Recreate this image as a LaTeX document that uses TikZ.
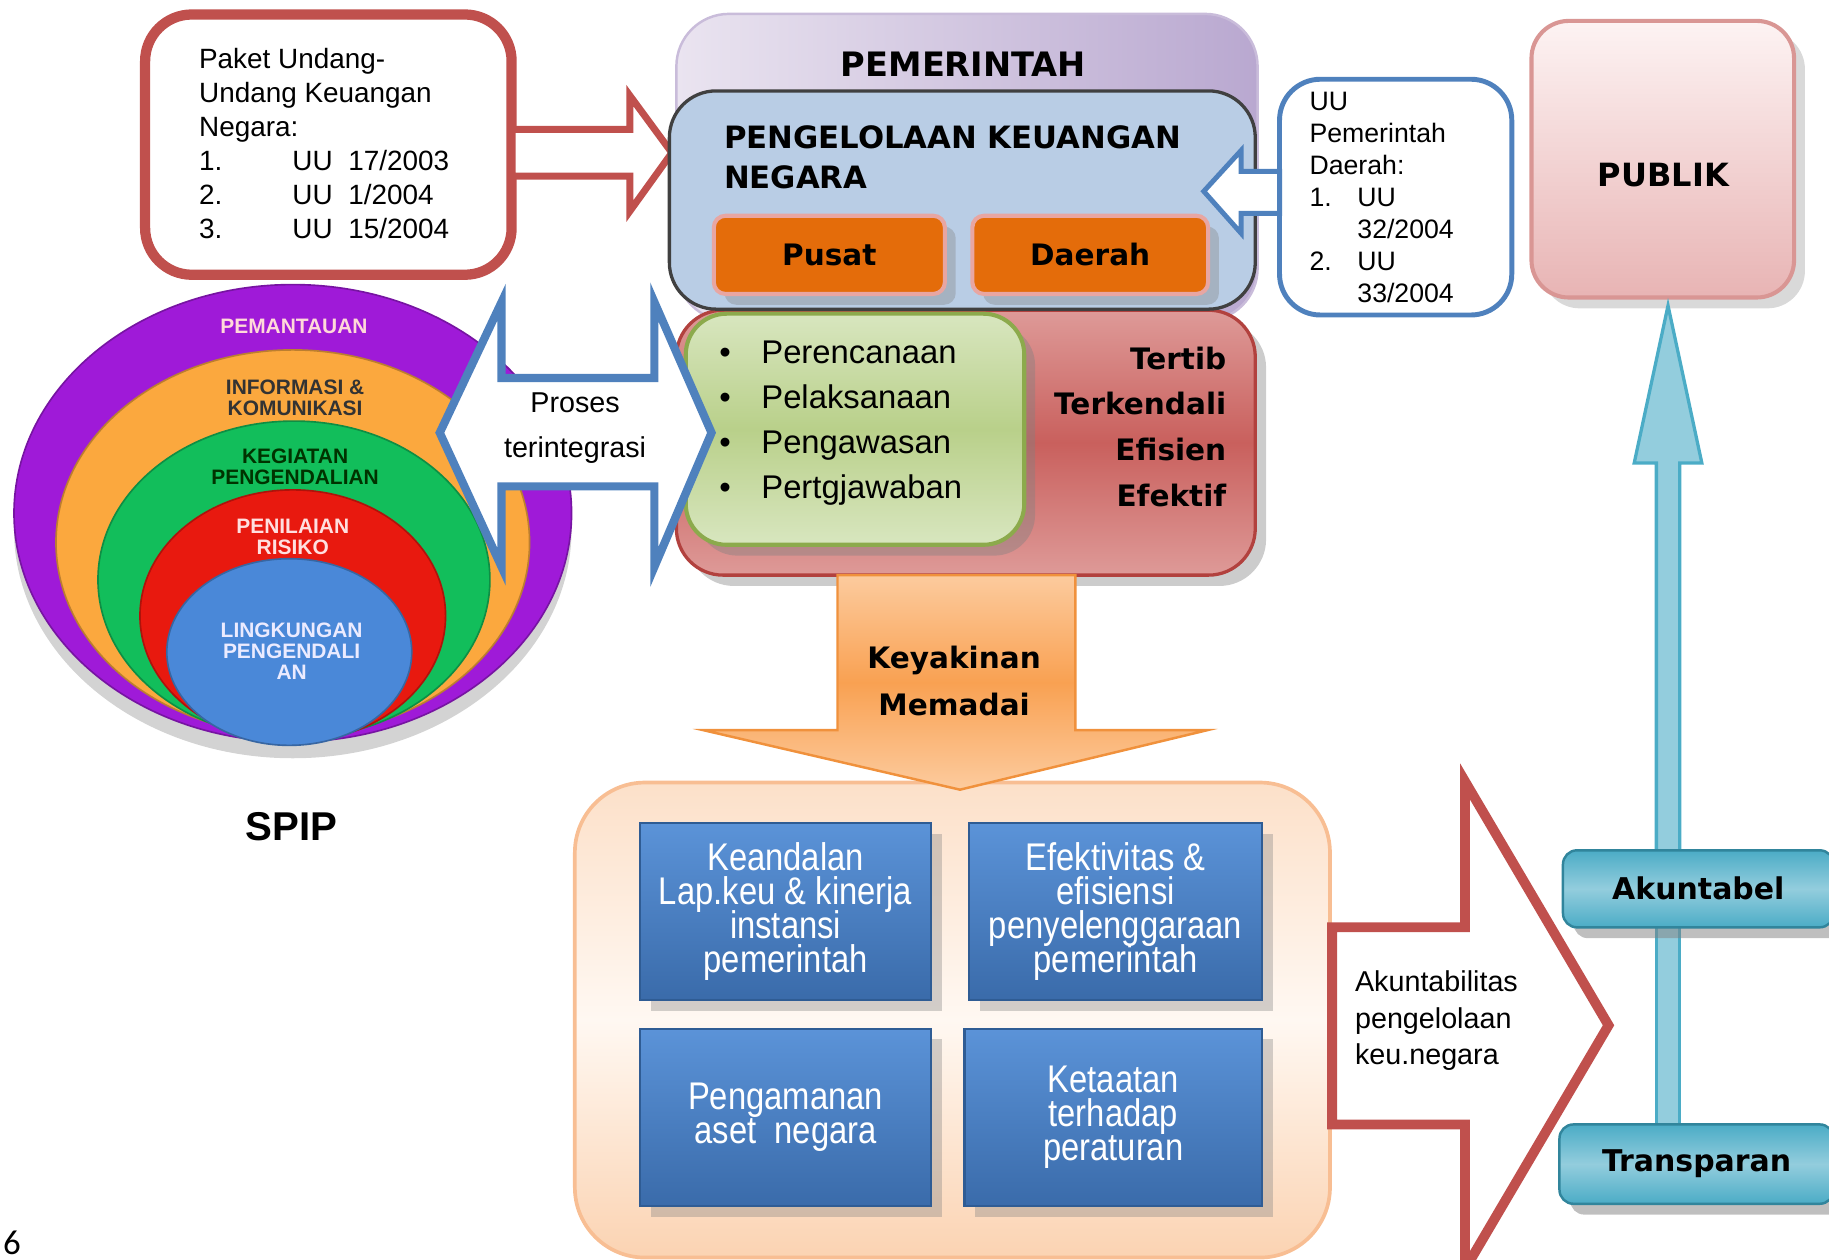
\documentclass[tikz,border=0pt]{standalone}
\usepackage{fontspec}
\setmainfont{Liberation Sans}
\newfontfamily\headfont{DejaVu Sans}
\newfontfamily\narrowfont[FakeStretch=0.85]{Liberation Sans}
\newfontfamily\pagefont{Carlito}
\usetikzlibrary{shadows,positioning}
\newcommand\tightlines{\setlength{\lineskiplimit}{-20pt}}

\definecolor{lawred}{HTML}{C0504D}
\definecolor{lawblue}{HTML}{4F81BD}
\definecolor{govlight}{HTML}{EAE4F0}
\definecolor{govdark}{HTML}{B9A8D0}
\definecolor{govedge}{HTML}{C9BCDA}
\definecolor{finfill}{HTML}{B9CDE5}
\definecolor{unitfill}{HTML}{E46C0A}
\definecolor{unitedge}{HTML}{E8A6A2}
\definecolor{resout}{HTML}{DE9A98}
\definecolor{resmid}{HTML}{C9605D}
\definecolor{resedge}{HTML}{B2413E}
\definecolor{steplight}{HTML}{D8E6BF}
\definecolor{stepmid}{HTML}{B9D08A}
\definecolor{stepedge}{HTML}{8CAA4C}
\definecolor{keylight}{HTML}{FCCB9E}
\definecolor{keymid}{HTML}{F9A152}
\definecolor{keyedge}{HTML}{F0913C}
\definecolor{goallight}{HTML}{FFF8F2}
\definecolor{goaldark}{HTML}{FBD3B2}
\definecolor{goaledge}{HTML}{F8BE93}
\definecolor{aimtop}{HTML}{5B93D8}
\definecolor{aimbot}{HTML}{3A6BAA}
\definecolor{aimedge}{HTML}{2F5C94}
\definecolor{pubtop}{HTML}{FDF3F3}
\definecolor{pubbot}{HTML}{E8B4B4}
\definecolor{pubedge}{HTML}{D99694}
\definecolor{pillar}{HTML}{4BACC6}
\definecolor{pillarlight}{HTML}{93CDDD}
\definecolor{pillaredge}{HTML}{31859C}
\definecolor{ringpurple}{HTML}{9F1AD8}
\definecolor{ringorange}{HTML}{FBA83E}
\definecolor{ringgreen}{HTML}{12BE5B}
\definecolor{ringred}{HTML}{E8190F}
\definecolor{ringblue}{HTML}{4A88D8}

\begin{document}
\begin{tikzpicture}[x=0.01cm,y=-0.01cm,
  head/.style n args={2}{font=\headfont\bfseries\fontsize{#1}{#2}\selectfont, inner sep=0pt},
  plain/.style n args={2}{font=\fontsize{#1}{#2}\selectfont, inner sep=0pt},
  lawbox/.style={draw=lawred, line width=2.5pt, fill=white, rounded corners=0.4cm, inner sep=0pt},
  rulebox/.style={draw=lawblue, line width=1.2pt, fill=white, rounded corners=0.35cm, inner sep=0pt},
  hollowred/.style={draw=lawred, fill=white, line join=miter},
  hollowblue/.style={draw=lawblue, fill=white, line join=miter},
  govbox/.style={draw=govedge, line width=0.6pt, left color=govlight, right color=govdark, rounded corners=0.45cm, inner sep=0pt},
  finbox/.style={draw=black!75, line width=0.8pt, fill=finfill, rounded corners=0.4cm, inner sep=0pt},
  unitbox/.style={draw=unitedge, line width=1pt, fill=unitfill, rounded corners=0.1cm, drop shadow={opacity=0.35}, head={7.2}{8}},
  resbox/.style={draw=resedge, line width=0.8pt, top color=resout, bottom color=resout, middle color=resmid, rounded corners=0.4cm, inner sep=0pt, drop shadow={opacity=0.4}},
  stepbox/.style={draw=stepedge, line width=1pt, top color=steplight, bottom color=steplight, middle color=stepmid, rounded corners=0.35cm, inner sep=0pt, drop shadow={opacity=0.4}},
  keyarrow/.style={draw=keyedge, line width=0.6pt, top color=keylight, bottom color=keylight, middle color=keymid, line join=miter},
  goalframe/.style={draw=goaledge, line width=0.9pt, top color=goaldark!70, bottom color=goaldark, middle color=goallight, rounded corners=0.6cm, inner sep=0pt},
  aimbox/.style={draw=aimedge, line width=0.5pt, top color=aimtop, bottom color=aimbot, drop shadow={opacity=0.35}, inner sep=0pt, text=white, align=center, font=\narrowfont\fontsize{9.4}{8.3}\selectfont\tightlines},
  pubbox/.style={draw=pubedge, line width=1pt, top color=pubtop, bottom color=pubbot, rounded corners=0.32cm, inner sep=0pt, drop shadow={opacity=0.3}},
  pillarbox/.style={draw=pillaredge, line width=0.6pt, top color=pillar, bottom color=pillar, middle color=pillarlight, rounded corners=0.12cm, drop shadow={opacity=0.5}, head={7.3}{8}},
  pillarline/.style={draw=pillar, line width=0.8pt, fill=pillarlight, line join=miter},
  ring/.style={draw=#1!75!black, line width=0.4pt, fill=#1},
  ringtext/.style={font=\bfseries\fontsize{5.1}{5.1}\selectfont\tightlines, align=center, inner sep=0pt}]

\useasboundingbox (0,0) rectangle (1568,1080);

\node[lawbox, minimum width=3.14cm, minimum height=2.23cm] (paket) at (281.5,124) {};
\node[plain={6.8}{8.25}, align=left, anchor=west] (paket_list) at (170,123)
  {Paket Undang-\\Undang Keuangan\\Negara:\\\makebox[0.8cm][l]{1.}UU~~17/2003\\\makebox[0.8cm][l]{2.}UU~~1/2004\\\makebox[0.8cm][l]{3.}UU~~15/2004};
\draw[hollowred, line width=1.7pt] (439,111) -- (540,111) -- (540,82) -- (576,131) -- (540,181) -- (540,151) -- (439,151) -- cycle;

\node[govbox, minimum width=4.98cm, minimum height=2.63cm] (pemerintah) at (829,143.5) {};
\node[head={8.2}{9}] (pemerintah_lbl) at (826,55) {PEMERINTAH};

\node[resbox, minimum width=4.96cm, minimum height=2.27cm] (tertib) at (828,379.5) {};
\node[stepbox, minimum width=2.9cm, minimum height=1.98cm] (tahapan) at (733,368) {};
\node[plain={8}{11}, align=left, anchor=west] (tahapan_list) at (616,363)
  {\makebox[0.36cm][l]{\textbullet}Perencanaan\\\makebox[0.36cm][l]{\textbullet}Pelaksanaan\\\makebox[0.36cm][l]{\textbullet}Pengawasan\\\makebox[0.36cm][l]{\textbullet}Pertgjawaban};
\node[head={7.2}{11.2}, align=right, anchor=east] (tertib_list) at (1052,366) {Tertib\\Terkendali\\Efisien\\Efektif};

\node[finbox, minimum width=5.02cm, minimum height=1.87cm] (pengelolaan) at (825,171.5) {};
\node[head={7.5}{9.7}, align=left, anchor=west] (pengelolaan_lbl) at (620,135) {PENGELOLAAN KEUANGAN\\NEGARA};
\node[unitbox, minimum width=1.98cm, minimum height=0.67cm] (pusat) at (711,218.5) {Pusat};
\node[unitbox, minimum width=2.02cm, minimum height=0.67cm, right=0.2cm of pusat] (daerah) {Daerah};

\node[rulebox, minimum width=1.99cm, minimum height=2.02cm] (uu_daerah) at (1196.5,169) {};
\node[plain={6.5}{7.8}, align=left, anchor=west] (uu_list) at (1122,169)
  {UU\\Pemerintah\\Daerah:\\\makebox[0.41cm][l]{1.}UU\\\hspace*{0.41cm}32/2004\\\makebox[0.41cm][l]{2.}UU\\\hspace*{0.41cm}33/2004};
\draw[hollowblue, line width=1.2pt] (1097,147) -- (1064,147) -- (1064,129) -- (1032,164) -- (1064,200) -- (1064,183) -- (1097,183) -- cycle;

% SPIP rings
\draw[ring=ringpurple, drop shadow={opacity=0.35, shadow xshift=0pt, shadow yshift=-4pt}] (251,440) ellipse [x radius=239, y radius=196];
\draw[ring=ringorange] (251,465) ellipse [x radius=203, y radius=165];
\draw[ring=ringgreen] (252,497) ellipse [x radius=168, y radius=136];
\draw[ring=ringred] (251,528) ellipse [x radius=131, y radius=108];
\draw[ring=ringblue] (248,559) ellipse [x radius=105, y radius=80];
\node[ringtext, text=pink!60!white] (pemantauan) at (252,280) {PEMANTAUAN};
\node[ringtext, text=black!80] (informasi) at (253,341) {INFORMASI \&\\KOMUNIKASI};
\node[ringtext, text=green!20!black] (kegiatan) at (253,400) {KEGIATAN\\PENGENDALIAN};
\node[ringtext, text=pink!50!white] (penilaian) at (251,460) {PENILAIAN\\RISIKO};
\node[ringtext, text=blue!8!white] (lingkungan) at (250,558) {LINGKUNGAN\\PENGENDALI\\AN};
\node[font=\bfseries\fontsize{9.8}{10}\selectfont, inner sep=0pt] (spip) at (250,709) {SPIP};

\draw[hollowblue, line width=2pt] (377,371) -- (430,259) -- (430,324) -- (561,324) -- (561,259) -- (610,371) -- (561,486) -- (561,417) -- (430,417) -- (430,486) -- cycle;
\node[plain={7}{10.8}, align=center] (proses) at (493,367) {Proses\\terintegrasi};

\node[goalframe, minimum width=6.47cm, minimum height=4.07cm] (tujuan) at (816.5,874.5) {};
\draw[keyarrow] (718,493) -- (922,493) -- (922,626) -- (1035,626) -- (823,677) -- (603,626) -- (718,626) -- cycle;
\node[head={7.2}{11.4}, align=center] (keyakinan) at (818,584) {Keyakinan\\Memadai};

\node[aimbox, minimum width=2.49cm, minimum height=1.51cm] (keandalan) at (673.5,781.5) {Keandalan\\Lap.keu \& kinerja\\instansi\\pemerintah};
\node[aimbox, minimum width=2.51cm, minimum height=1.51cm, right=0.31cm of keandalan] (efektivitas) {Efektivitas \&\\efisiensi\\penyelenggaraan\\pemerintah};
\node[aimbox, minimum width=2.49cm, minimum height=1.52cm, below=0.23cm of keandalan] (pengamanan) {Pengamanan\\aset~~negara};
\node[aimbox, minimum width=2.55cm, minimum height=1.52cm, right=0.27cm of pengamanan] (ketaatan) {Ketaatan\\terhadap\\peraturan};

\draw[hollowred, line width=2.4pt] (1142,795) -- (1256,795) -- (1256,670) -- (1379,879) -- (1256,1088) -- (1256,964) -- (1142,964) -- cycle;
\node[plain={7}{8.8}, align=left, anchor=west] (akuntabilitas) at (1161,875) {Akuntabilitas\\pengelolaan\\keu.negara};

\node[pubbox, minimum width=2.25cm, minimum height=2.37cm] (publik) at (1425.5,136.5) {};
\node[head={7.8}{9}] (publik_lbl) at (1426,150) {PUBLIK};
\draw[pillarline] (1420,729) -- (1420,397) -- (1401,397) -- (1430,262) -- (1459,397) -- (1440,397) -- (1440,729);
\draw[pillarline] (1420,790) rectangle (1440,968);
\node[pillarbox, minimum width=2.32cm, minimum height=0.66cm] (akuntabel) at (1456,762) {Akuntabel};
\node[pillarbox, minimum width=2.35cm, minimum height=0.68cm] (transparan) at (1454.5,998) {Transparan};

\node[font=\pagefont\fontsize{8.5}{9}\selectfont, inner sep=0pt, anchor=south west] (halaman) at (2,1076) {6};
\end{tikzpicture}
\end{document}
